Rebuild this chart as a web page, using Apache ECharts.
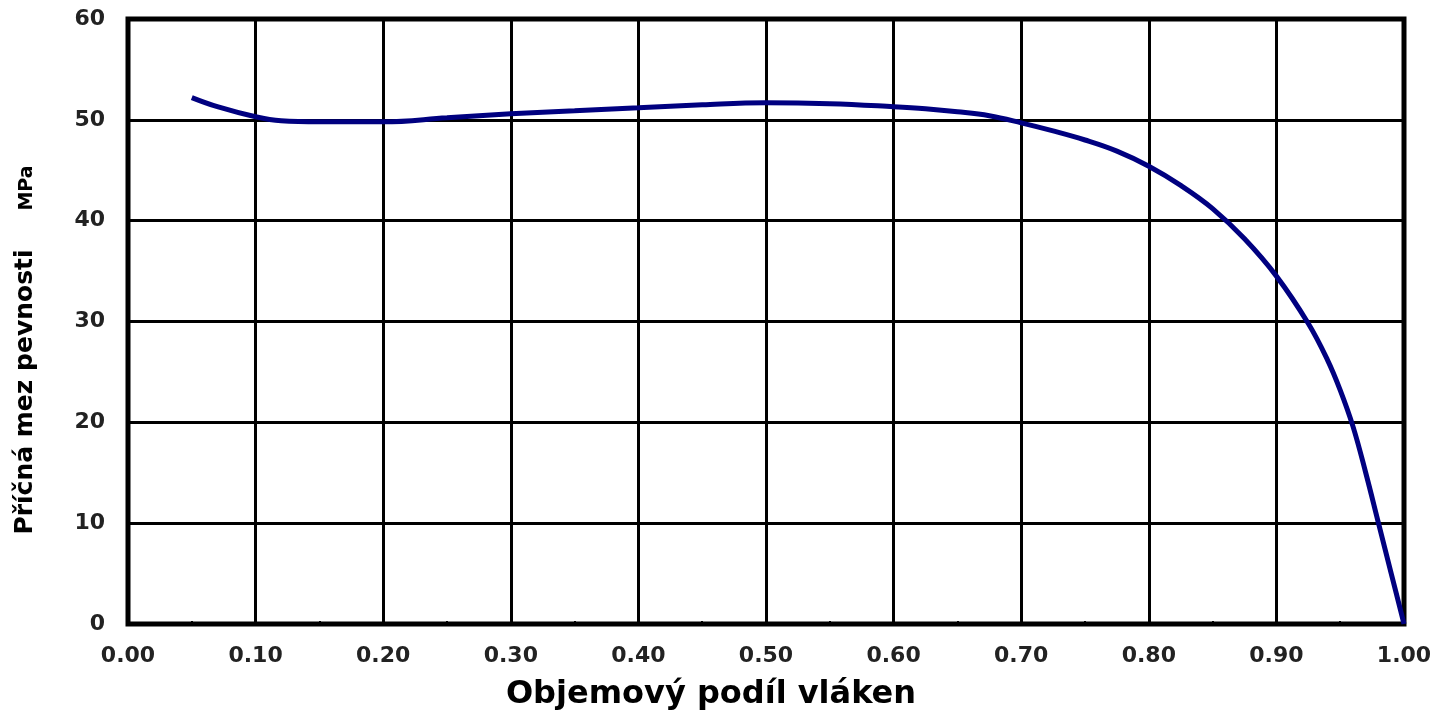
<!DOCTYPE html>
<html>
<head>
<meta charset="utf-8">
<script src="https://cdn.jsdelivr.net/npm/echarts@6/dist/echarts.min.js"></script>
<style>
html,body{margin:0;padding:0;background:#fff;}
#chart{width:1437px;height:710px;}
</style>
</head>
<body>
<div id="chart"></div>
<script>
// Fibre volume fraction (x) and transverse strength in MPa (y)
const fibreFraction = [0.05, 0.07, 0.10, 0.12, 0.15, 0.20, 0.25, 0.30, 0.35, 0.40, 0.45, 0.50, 0.55, 0.60, 0.625, 0.65, 0.675, 0.70, 0.725, 0.75, 0.775, 0.80, 0.825, 0.85, 0.875, 0.90, 0.925, 0.94, 0.95, 0.96, 0.97, 0.98, 0.99, 1.00];
const strength = [52.2, 51.3, 50.3, 49.9, 49.8, 49.8, 50.2, 50.6, 50.9, 51.2, 51.5, 51.7, 51.6, 51.3, 51.1, 50.8, 50.4, 49.7, 48.9, 48.0, 46.9, 45.4, 43.5, 41.2, 38.2, 34.5, 29.8, 26.2, 23.2, 19.6, 15.0, 10.0, 5.0, 0.0];
const xAxisTitle = 'Objemový podíl vláken';
const yAxisTitle = 'Příčná mez pevnosti';
const yAxisUnit = 'MPa';

const chart = echarts.init(document.getElementById('chart'), null, {renderer: 'canvas'});
const tickFont = {fontFamily: 'DejaVu Sans', fontWeight: 'bold', fontSize: 22, color: '#222'};

chart.setOption({
  animation: false,
  backgroundColor: '#fff',
  grid: {left: 128, right: 33, top: 19, bottom: 86, show: true, borderColor: '#000', borderWidth: 5, backgroundColor: '#fff'},
  xAxis: {
    type: 'value', min: 0, max: 1, interval: 0.1,
    axisLine: {show: false},
    axisTick: {show: false, inside: true},
    minorTick: {show: true, splitNumber: 2, length: 3, lineStyle: {color: '#000', width: 2}},
    splitLine: {show: true, lineStyle: {color: '#000', width: 3}},
    axisLabel: Object.assign({margin: 21, formatter: v => v.toFixed(2)}, tickFont)
  },
  yAxis: {
    type: 'value', min: 0, max: 60, interval: 10,
    axisLine: {show: false},
    axisTick: {show: false},
    splitLine: {show: true, lineStyle: {color: '#000', width: 3}},
    axisLabel: Object.assign({margin: 23}, tickFont)
  },
  graphic: [
    {type: 'text', x: 711, y: 695, style: {text: xAxisTitle, font: 'bold 32px "DejaVu Sans"', fill: '#000', textAlign: 'center', textVerticalAlign: 'middle'}},
    {type: 'text', x: 25, y: 392, rotation: Math.PI / 2, style: {text: yAxisTitle, font: 'bold 25px "DejaVu Sans"', fill: '#000', textAlign: 'center', textVerticalAlign: 'middle'}},
    {type: 'text', x: 27, y: 188, rotation: Math.PI / 2, style: {text: yAxisUnit, font: 'bold 19px "DejaVu Sans"', fill: '#000', textAlign: 'center', textVerticalAlign: 'middle'}}
  ],
  series: [{
    type: 'line',
    data: fibreFraction.map((x, i) => [x, strength[i]]),
    showSymbol: false,
    smooth: 0.4,
    clip: false,
    lineStyle: {color: '#000080', width: 5}
  }]
});
</script>
</body>
</html>
